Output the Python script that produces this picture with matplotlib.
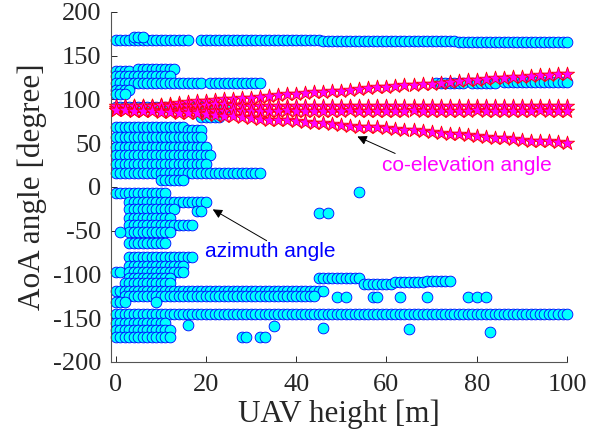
import numpy as np
import matplotlib
matplotlib.use("Agg")
import matplotlib.pyplot as plt

plt.rcParams["font.family"] = "serif"
plt.rcParams["font.serif"] = ["Liberation Serif", "DejaVu Serif"]

# azimuth paths: (angle [deg], first height [m], last height [m]), sampled every 1 m
AZ_TRACKS = [
    (168, 0, 16), (171, 4, 6),
    (168, 19, 45), (167, 46, 75), (166, 76, 100),
    (133, 0, 3), (135, 5, 13), (127, 0, 12),
    (119, 0, 19), (119, 21, 32), (119, 71, 77), (119, 79, 84), (120, 86, 100),
    (111, 0, 3), (106, 0, 2),
    (91, 0, 25), (80, 19, 23),
    (69, 0, 15), (65, 16, 19), (57, 0, 19), (46, 0, 20), (37, 0, 21),
    (26, 0, 20), (16, 0, 32), (8, 10, 15),
    (-7, 0, 11), (-17, 3, 20), (-25, 3, 13), (-28, 18, 19), (-35, 3, 12),
    (-43, 3, 17), (-52, 3, 12), (-51, 1, 1), (-64, 3, 11), (-80, 3, 17),
    (-90, 3, 15), (-97, 0, 1), (-97, 3, 15), (-104, 3, 12), (-110, 2, 12),
    (-119, 0, 46), (-125, 2, 44), (-132, 0, 2), (-131, 9, 9),
    (-104, 45, 54), (-111, 55, 61), (-109, 62, 68), (-107, 69, 74),
    (-145, 0, 100),
    (-156, 0, 11), (-163, 0, 12), (-172, 0, 12),
]

# single azimuth points (height, angle)
AZ_SINGLE_H = [49, 51, 57, 58, 63, 69, 78, 80, 82,
               16, 35, 46, 28, 29, 32, 33, 65, 83, 45, 47, 54]
AZ_SINGLE_A = [-126, -126, -126, -126, -126, -126, -126, -126, -126,
               -158, -159, -161, -172, -172, -172, -172, -162, -166, -30, -30, -6]

# co-elevation paths read every 2 m (heights 0, 2, ..., 100)
EL_HEIGHTS = np.arange(0, 101, 2)
EL_RISING = [90, 91, 92, 92, 93, 94, 95, 96, 97, 98, 98, 99, 100, 101, 102, 102,
             103, 104, 105, 106, 106, 107, 108, 109, 110, 110, 111, 112, 113, 114,
             114, 115, 116, 117, 118, 118, 119, 120, 121, 122, 122, 123, 124, 125,
             126, 126, 127, 128, 128, 129, 129]
EL_FLAT_HI = [93, 93, 93, 92, 93, 94, 93, 93, 92, 93, 94, 95, 95, 94, 93, 93,
              92, 93, 93, 92, 92, 93, 92, 92, 93, 92, 92, 92, 93, 92, 92, 92,
              93, 92, 92, 92, 92, 93, 92, 92, 92, 92, 92, 93, 92, 92, 92, 92,
              92, 92, 92]
EL_FLAT_LO = [88, 88, 87, 87, 88, 87, 87, 87, 88, 87, 87, 87, 87, 88, 87, 87,
              87, 87, 87, 88, 87, 87, 87, 87, 87, 87, 88, 87, 87, 87, 87, 87,
              87, 88, 87, 87, 87, 87, 87, 87, 88, 87, 87, 87, 87, 87, 87, 88,
              87, 87, 87]
EL_FALLING = [88, 88, 87, 87, 87, 86, 86, 85, 85, 84, 83, 82, 81, 81, 80, 79,
              78, 77, 77, 76, 75, 74, 73, 73, 72, 71, 70, 69, 69, 68, 67, 66,
              65, 65, 64, 63, 62, 61, 61, 59, 58, 57, 56, 56, 55, 54, 53, 52,
              52, 51, 50]

X_TICKS = [0, 20, 40, 60, 80, 100]
Y_TICKS = [-200, -150, -100, -50, 0, 50, 100, 150, 200]

az_h, az_a = [], []
for ang, h0, h1 in AZ_TRACKS:
    hs = np.arange(h0, h1 + 1)
    az_h.extend(hs)
    az_a.extend([ang] * len(hs))
az_h.extend(AZ_SINGLE_H)
az_a.extend(AZ_SINGLE_A)

SERIF = ["Liberation Serif", "DejaVu Serif"]
SANS = ["Liberation Sans", "DejaVu Sans"]

fig = plt.figure(figsize=(6.06, 4.47), dpi=100)
ax = fig.add_axes([0.1832, 0.1902, 0.7525, 0.7830])

ax.scatter(az_h, az_a, s=60, marker="o", facecolor="#00ffff",
           edgecolor="#0000ff", linewidths=0.6, zorder=2, clip_on=False)
for track in (EL_RISING, EL_FLAT_HI, EL_FLAT_LO, EL_FALLING):
    ax.scatter(EL_HEIGHTS, track, s=115, marker="*", facecolor="#ff00ff",
               edgecolor="#ff0000", linewidths=0.6, zorder=3, clip_on=False)

ax.annotate("", xy=(53, 59), xytext=(62.5, 37),
            arrowprops=dict(arrowstyle="-|>", color="k", lw=0.7,
                            mutation_scale=14), zorder=5)
ax.text(59, 24, "co-elevation angle", color="#ff00ff", fontsize=15,
        family=SANS, ha="left", va="center", zorder=5)
ax.annotate("", xy=(21, -24), xytext=(34, -63),
            arrowprops=dict(arrowstyle="-|>", color="k", lw=0.7,
                            mutation_scale=14), zorder=5)
ax.text(19.8, -74, "azimuth angle", color="#0000ff", fontsize=15,
        family=SANS, ha="left", va="center", zorder=5)

ax.set_xlim(-1, 100)
ax.set_ylim(-200, 200)
ax.set_xticks(X_TICKS)
ax.set_xticklabels([str(v) for v in X_TICKS], family=SERIF, fontsize=19)
ax.set_yticks(Y_TICKS)
ax.set_yticklabels([str(v) for v in Y_TICKS], family=SERIF, fontsize=19)
ax.tick_params(direction="in", length=4, width=0.7, colors="#262626")
ax.tick_params(axis="x", pad=9)
ax.tick_params(axis="y", pad=7)
for side in ("top", "right"):
    ax.spines[side].set_visible(False)
for side in ("left", "bottom"):
    ax.spines[side].set_color("#555555")
    ax.spines[side].set_linewidth(0.8)

ax.set_xlabel("UAV height [m]", fontsize=22.5, family=SERIF, color="#262626",
              labelpad=2)
ax.set_ylabel("AoA angle [degree]", fontsize=22.5, family=SERIF, color="#262626",
              labelpad=4)

fig.savefig("out.png", dpi=100)
